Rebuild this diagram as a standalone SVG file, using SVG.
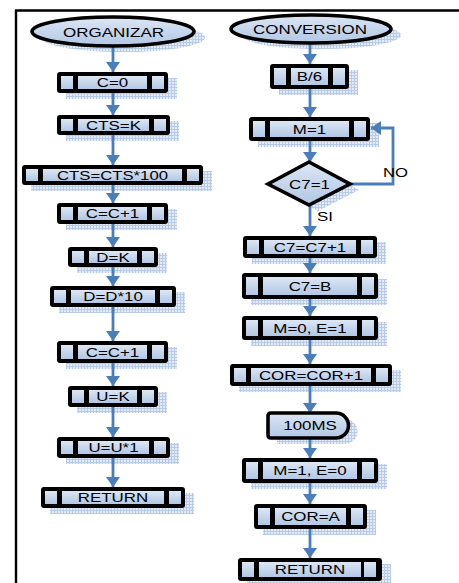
<svg xmlns="http://www.w3.org/2000/svg" width="459" height="583" viewBox="0 0 459 583">
<defs>
<linearGradient id="g" x1="0" y1="0" x2="0" y2="1">
<stop offset="0" stop-color="#dde7f4"/>
<stop offset="0.5" stop-color="#c6d6ec"/>
<stop offset="1" stop-color="#b3c7e4"/>
</linearGradient>
<pattern id="shad" width="3" height="3" patternUnits="userSpaceOnUse">
<rect width="3" height="3" fill="#e4ebf6"/>
<rect width="3" height="1" fill="#b7cae6"/>
<rect width="1" height="3" fill="#b7cae6"/>
</pattern>
<marker id="ah" viewBox="0 0 10 14" refX="10" refY="7" markerWidth="10" markerHeight="14" markerUnits="userSpaceOnUse" orient="auto">
<path d="M0,0 L10,7 L0,14 Z" fill="#4a7ebb"/>
</marker>
</defs>
<style>
.sh{fill:url(#shad)}
.box{fill:#000}
.cell{fill:url(#g)}
.term{fill:url(#g);stroke:#000;stroke-width:3.6}
.t{font-family:"Liberation Sans",Arial,sans-serif;font-size:13.5px;fill:#000;text-anchor:middle}
.lbl{font-family:"Liberation Sans",Arial,sans-serif;font-size:13.5px;fill:#000}
.c{fill:none;stroke:#4a7ebb;stroke-width:2.8;marker-end:url(#ah)}
.frame{stroke:#000;stroke-width:2.4;fill:none}
</style>

<g id="frame">
<path class="frame" d="M15,10.5 H459 M16,10 V583"/>
</g>

<g id="shadows">
<ellipse class="sh" cx="123" cy="37.5" rx="82" ry="14.5"/>
<rect class="sh" x="66" y="78" width="111" height="21"/>
<rect class="sh" x="66" y="121" width="113" height="20"/>
<rect class="sh" x="31" y="171" width="181" height="20"/>
<rect class="sh" x="66" y="209" width="111" height="21"/>
<rect class="sh" x="77" y="253" width="90" height="20"/>
<rect class="sh" x="59" y="292" width="126" height="21"/>
<rect class="sh" x="66" y="347" width="111" height="22"/>
<rect class="sh" x="77" y="392" width="90" height="21"/>
<rect class="sh" x="66" y="443" width="113" height="21"/>
<rect class="sh" x="50" y="493" width="144" height="21"/>
<ellipse class="sh" cx="321" cy="35" rx="80" ry="14"/>
<rect class="sh" x="279" y="70" width="79" height="25"/>
<rect class="sh" x="258" y="123" width="121" height="24"/>
<polygon class="sh" points="277,190 318,168 359,190 318,211"/>
<rect class="sh" x="252" y="242" width="134" height="22"/>
<rect class="sh" x="251" y="279" width="136" height="26"/>
<rect class="sh" x="251" y="322" width="136" height="24"/>
<rect class="sh" x="239" y="370" width="162" height="22"/>
<path class="sh" d="M277,419 H345 A12.5,12.5 0 0 1 345,444 H277 Z"/>
<rect class="sh" x="251" y="464" width="136" height="25"/>
<rect class="sh" x="263" y="510" width="113" height="25"/>
<rect class="sh" x="247" y="564" width="144" height="23"/>
</g>

<g id="connectors">
<line class="c" x1="113" y1="46" x2="113" y2="72"/>
<line class="c" x1="113" y1="93" x2="113" y2="115"/>
<line class="c" x1="113" y1="135" x2="113" y2="165"/>
<line class="c" x1="113" y1="185" x2="113" y2="203"/>
<line class="c" x1="113" y1="224" x2="113" y2="247"/>
<line class="c" x1="113" y1="267" x2="113" y2="286"/>
<line class="c" x1="113" y1="307" x2="113" y2="341"/>
<line class="c" x1="113" y1="363" x2="113" y2="386"/>
<line class="c" x1="113" y1="407" x2="113" y2="437"/>
<line class="c" x1="113" y1="458" x2="113" y2="487"/>
<line class="c" x1="310" y1="43" x2="310" y2="64"/>
<line class="c" x1="310" y1="89" x2="310" y2="117"/>
<line class="c" x1="310" y1="141" x2="310" y2="162"/>
<line class="c" x1="310" y1="205" x2="310" y2="236"/>
<line class="c" x1="310" y1="258" x2="310" y2="273"/>
<line class="c" x1="310" y1="299" x2="310" y2="316"/>
<line class="c" x1="310" y1="340" x2="310" y2="364"/>
<line class="c" x1="310" y1="386" x2="310" y2="413"/>
<line class="c" x1="310" y1="438" x2="310" y2="458"/>
<line class="c" x1="310" y1="483" x2="310" y2="504"/>
<line class="c" x1="310" y1="529" x2="310" y2="558"/>
<polyline class="c" points="350,184 393,184 393,128 371,128"/>
<text class="lbl" x="383" y="177" textLength="25" lengthAdjust="spacingAndGlyphs">NO</text>
<text class="lbl" x="317" y="220.5" textLength="16" lengthAdjust="spacingAndGlyphs">SI</text>
</g>

<g id="organizar">
<ellipse class="term" cx="113" cy="31.5" rx="81" ry="14.5"/>
<text class="t" x="113.5" y="36.5" textLength="101" lengthAdjust="spacingAndGlyphs">ORGANIZAR</text>
</g>
<g id="c0">
<rect class="box" x="57" y="72" width="111" height="21" rx="3"/>
<rect class="cell" x="61" y="76" width="12" height="13"/><rect class="cell" x="78" y="76" width="69" height="13"/><rect class="cell" x="152" y="76" width="12" height="13"/>
<text class="t" x="112.5" y="87" textLength="31.5" lengthAdjust="spacingAndGlyphs">C=0</text>
</g>
<g id="ctsk">
<rect class="box" x="57" y="115" width="113" height="20" rx="3"/>
<rect class="cell" x="61" y="119" width="12" height="12"/><rect class="cell" x="78" y="119" width="71" height="12"/><rect class="cell" x="154" y="119" width="12" height="12"/>
<text class="t" x="113.5" y="129.5" textLength="55" lengthAdjust="spacingAndGlyphs">CTS=K</text>
</g>
<g id="cts100">
<rect class="box" x="22" y="165" width="181" height="20" rx="3"/>
<rect class="cell" x="26" y="169" width="12" height="12"/><rect class="cell" x="43" y="169" width="139" height="12"/><rect class="cell" x="187" y="169" width="12" height="12"/>
<text class="t" x="112.5" y="179.5" textLength="111" lengthAdjust="spacingAndGlyphs">CTS=CTS*100</text>
</g>
<g id="cc1a">
<rect class="box" x="57" y="203" width="111" height="21" rx="3"/>
<rect class="cell" x="61" y="207" width="12" height="13"/><rect class="cell" x="78" y="207" width="69" height="13"/><rect class="cell" x="152" y="207" width="12" height="13"/>
<text class="t" x="112.5" y="218" textLength="53.5" lengthAdjust="spacingAndGlyphs">C=C+1</text>
</g>
<g id="dk">
<rect class="box" x="68" y="247" width="90" height="20" rx="3"/>
<rect class="cell" x="72" y="251" width="12" height="12"/><rect class="cell" x="89" y="251" width="48" height="12"/><rect class="cell" x="142" y="251" width="12" height="12"/>
<text class="t" x="113" y="261.5" textLength="33.3" lengthAdjust="spacingAndGlyphs">D=K</text>
</g>
<g id="dd10">
<rect class="box" x="50" y="286" width="126" height="21" rx="3"/>
<rect class="cell" x="54" y="290" width="12" height="13"/><rect class="cell" x="71" y="290" width="84" height="13"/><rect class="cell" x="160" y="290" width="12" height="13"/>
<text class="t" x="113" y="301" textLength="59.6" lengthAdjust="spacingAndGlyphs">D=D*10</text>
</g>
<g id="cc1b">
<rect class="box" x="57" y="341" width="111" height="22" rx="3"/>
<rect class="cell" x="61" y="345" width="12" height="14"/><rect class="cell" x="78" y="345" width="69" height="14"/><rect class="cell" x="152" y="345" width="12" height="14"/>
<text class="t" x="112.5" y="356.5" textLength="53.5" lengthAdjust="spacingAndGlyphs">C=C+1</text>
</g>
<g id="uk">
<rect class="box" x="68" y="386" width="90" height="21" rx="3"/>
<rect class="cell" x="72" y="390" width="12" height="13"/><rect class="cell" x="89" y="390" width="48" height="13"/><rect class="cell" x="142" y="390" width="12" height="13"/>
<text class="t" x="113" y="401" textLength="33.3" lengthAdjust="spacingAndGlyphs">U=K</text>
</g>
<g id="uu1">
<rect class="box" x="57" y="437" width="113" height="21" rx="3"/>
<rect class="cell" x="61" y="441" width="12" height="13"/><rect class="cell" x="78" y="441" width="71" height="13"/><rect class="cell" x="154" y="441" width="12" height="13"/>
<text class="t" x="113.5" y="452" textLength="50.2" lengthAdjust="spacingAndGlyphs">U=U*1</text>
</g>
<g id="return1">
<rect class="box" x="41" y="487" width="144" height="21" rx="3"/>
<rect class="cell" x="45" y="491" width="12" height="13"/><rect class="cell" x="62" y="491" width="102" height="13"/><rect class="cell" x="169" y="491" width="12" height="13"/>
<text class="t" x="113" y="502" textLength="70.4" lengthAdjust="spacingAndGlyphs">RETURN</text>
</g>

<g id="conversion">
<ellipse class="term" cx="311" cy="29" rx="80" ry="14"/>
<text class="t" x="310" y="34" textLength="114" lengthAdjust="spacingAndGlyphs">CONVERSION</text>
</g>
<g id="b6">
<rect class="box" x="270" y="64" width="79" height="25" rx="3"/>
<rect class="cell" x="274" y="68" width="12" height="17"/><rect class="cell" x="291" y="68" width="37" height="17"/><rect class="cell" x="333" y="68" width="12" height="17"/>
<text class="t" x="309.5" y="81" textLength="25.4" lengthAdjust="spacingAndGlyphs">B/6</text>
</g>
<g id="m1">
<rect class="box" x="249" y="117" width="121" height="24" rx="3"/>
<rect class="cell" x="253" y="121" width="12" height="16"/><rect class="cell" x="270" y="121" width="79" height="16"/><rect class="cell" x="354" y="121" width="12" height="16"/>
<text class="t" x="309.5" y="133.5" textLength="33.3" lengthAdjust="spacingAndGlyphs">M=1</text>
</g>
<g id="c7eq1">
<polygon class="term" points="268,184 309,162 350,184 309,205"/>
<text class="t" x="309.5" y="188.5" textLength="40.9" lengthAdjust="spacingAndGlyphs">C7=1</text>
</g>
<g id="c7c71">
<rect class="box" x="243" y="236" width="134" height="22" rx="3"/>
<rect class="cell" x="247" y="240" width="12" height="14"/><rect class="cell" x="264" y="240" width="92" height="14"/><rect class="cell" x="361" y="240" width="12" height="14"/>
<text class="t" x="310" y="251.5" textLength="72.3" lengthAdjust="spacingAndGlyphs">C7=C7+1</text>
</g>
<g id="c7b">
<rect class="box" x="242" y="273" width="136" height="26" rx="3"/>
<rect class="cell" x="246" y="277" width="12" height="18"/><rect class="cell" x="263" y="277" width="94" height="18"/><rect class="cell" x="362" y="277" width="12" height="18"/>
<text class="t" x="310" y="290.5" textLength="42.7" lengthAdjust="spacingAndGlyphs">C7=B</text>
</g>
<g id="m0e1">
<rect class="box" x="242" y="316" width="136" height="24" rx="3"/>
<rect class="cell" x="246" y="320" width="12" height="16"/><rect class="cell" x="263" y="320" width="94" height="16"/><rect class="cell" x="362" y="320" width="12" height="16"/>
<text class="t" x="310" y="332.5" textLength="73.3" lengthAdjust="spacingAndGlyphs">M=0, E=1</text>
</g>
<g id="corcor1">
<rect class="box" x="230" y="364" width="162" height="22" rx="3"/>
<rect class="cell" x="234" y="368" width="12" height="14"/><rect class="cell" x="251" y="368" width="120" height="14"/><rect class="cell" x="376" y="368" width="12" height="14"/>
<text class="t" x="311" y="379.5" textLength="104.2" lengthAdjust="spacingAndGlyphs">COR=COR+1</text>
</g>
<g id="delay100ms">
<path class="term" d="M271,413 H336 A12.5,12.5 0 0 1 336,438 H271 Q268,438 268,435 V416 Q268,413 271,413 Z"/>
<text class="t" x="310" y="430" textLength="53.5" lengthAdjust="spacingAndGlyphs">100MS</text>
</g>
<g id="m1e0">
<rect class="box" x="242" y="458" width="136" height="25" rx="3"/>
<rect class="cell" x="246" y="462" width="12" height="17"/><rect class="cell" x="263" y="462" width="94" height="17"/><rect class="cell" x="362" y="462" width="12" height="17"/>
<text class="t" x="310" y="475" textLength="73.3" lengthAdjust="spacingAndGlyphs">M=1, E=0</text>
</g>
<g id="cora">
<rect class="box" x="254" y="504" width="113" height="25" rx="3"/>
<rect class="cell" x="258" y="508" width="12" height="17"/><rect class="cell" x="275" y="508" width="71" height="17"/><rect class="cell" x="351" y="508" width="12" height="17"/>
<text class="t" x="310.5" y="521" textLength="58.7" lengthAdjust="spacingAndGlyphs">COR=A</text>
</g>
<g id="return2">
<rect class="box" x="238" y="558" width="144" height="23" rx="3"/>
<rect class="cell" x="242" y="562" width="12" height="15"/><rect class="cell" x="259" y="562" width="102" height="15"/><rect class="cell" x="364" y="562" width="12" height="15"/>
<text class="t" x="310" y="574" textLength="70.4" lengthAdjust="spacingAndGlyphs">RETURN</text>
</g>
</svg>
